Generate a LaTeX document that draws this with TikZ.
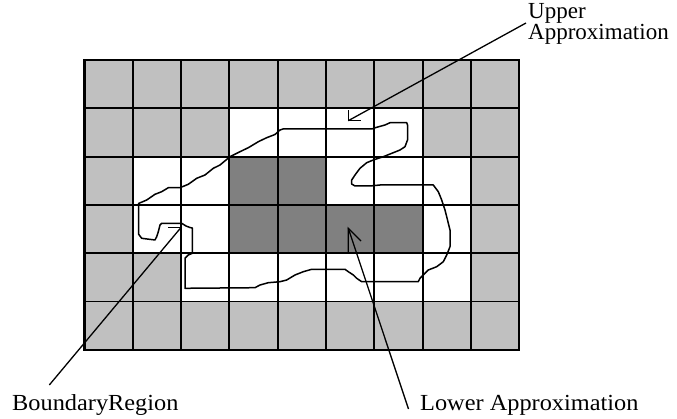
\documentclass[tikz,border=0pt]{standalone}
\usepackage{fontspec}
\setmainfont{Liberation Serif}
\definecolor{lightcell}{RGB}{192,192,192}
\definecolor{darkcell}{RGB}{128,128,128}
\begin{document}
\begin{tikzpicture}[x=1pt,y=-1pt,
  gridline/.style={line width=1.9pt, black},
  frame/.style={line width=2.2pt, black},
  contour/.style={line width=1.5pt, black, line join=round},
  conn/.style={line width=1.3pt, black},
  lbl/.style={inner sep=0pt, font={\fontsize{23}{18.3}\selectfont}},
  widelbl/.style={inner sep=0pt, font={\fontsize{23}{18.3}\selectfont\addfontfeature{FakeStretch=1.058}}}]
\useasboundingbox (0,0) rectangle (677,419);
\begin{scope}[shift={(84.5,60)}, x=48.3pt, y=-48.3pt]
  \fill[lightcell] (0,0) rectangle (9,6);
  \fill[white] (3,1) rectangle (7,2);
  \fill[white] (1,2) rectangle (8,4);
  \fill[white] (2,4) rectangle (8,5);
  \fill[darkcell] (3,2) rectangle (5,3);
  \fill[darkcell] (3,3) rectangle (7,4);
  \foreach \i in {1,...,8} \draw[gridline] (\i,0) -- (\i,6);
  \foreach \j in {1,...,5} \draw[gridline] (0,\j) -- (9,\j);
  \draw[frame] (0,0) rectangle (9,6);
\end{scope}
% contour of the set
\draw[contour] (138.5,203.5) -- (146.7,200) -- (155,194.3) -- (161.7,191.7) -- (168.3,187.7)
  -- (180,187.7) -- (188.3,184.3) -- (196.7,178.3) -- (205,175) -- (213.3,168.3)
  -- (220,165) -- (230,156.7) -- (240,151.7) -- (248.3,147.7) -- (258.3,141.7)
  -- (266.7,137.7) -- (275,134.5) -- (280,130) -- (283,129) -- (371.7,129)
  -- (376.7,127.3) -- (385,125) -- (390,122.7) -- (406.7,122.7) -- (407.5,125)
  -- (407.5,140) -- (405,146.7) -- (400,150) -- (393.3,152.7) -- (383.3,156.7)
  -- (373.3,160) -- (366.7,162.7) -- (360,168.3) -- (355,175) -- (351.7,180)
  -- (351.7,184) -- (355,186) -- (370,186) -- (380,185) -- (433.3,185)
  -- (438.3,191.7) -- (441.7,200) -- (445,210) -- (446.7,216.7) -- (450,230)
  -- (450,246.7) -- (446.7,255) -- (443.3,261.7) -- (436.7,266.7) -- (428.3,270)
  -- (420,278.3) -- (418.3,281.7) -- (361.7,281.7) -- (356.7,278.3) -- (353.3,275)
  -- (348.3,271.7) -- (345,269.3) -- (311.7,269.3) -- (303.3,271.7) -- (295,275)
  -- (286.7,280) -- (280,281.7) -- (268.3,282.7) -- (260,285) -- (255,287.7)
  -- (185,288.3) -- (185,258.3) -- (188.3,255) -- (192.3,253.3) -- (192.3,228)
  -- (190,227.5) -- (186,226) -- (182,223.5) -- (161.7,223.3) -- (160,225)
  -- (158.3,231.7) -- (156.7,236.7) -- (155,240) -- (141.7,238.3) -- (138.5,234)
  -- cycle;
% labels
\node[widelbl, anchor=base west] (boundary) at (12,410) {BoundaryRegion};
\node[widelbl, anchor=base west] (lower) at (420,410) {Lower Approximation};
\node[lbl, anchor=base west, align=left] (upper) at (528,40) {Upper\\Approximation};
% arrow tips and tails
\coordinate (tipU) at (348.3,120.7);
\coordinate (tipB) at (181,227.5);
\coordinate (tipL) at (348.3,228.3);
\coordinate (tailU) at (526,23);
\coordinate (tailB) at (49.3,385);
\coordinate (tailL) at (408.5,409);
\draw[conn] (tailU) -- (tipU);
\draw[conn] (tipU) ++(12.4,0) -- (tipU) -- ++(0,-10.7);
\draw[conn] (tailB) -- (tipB);
\draw[conn] (tipB) ++(-13,0) -- (tipB) -- ++(0,13);
\draw[conn] (tailL) -- (tipL);
\draw[conn] (tipL) ++(12.7,12.7) -- (tipL) -- ++(0,23.5);
\end{tikzpicture}
\end{document}
